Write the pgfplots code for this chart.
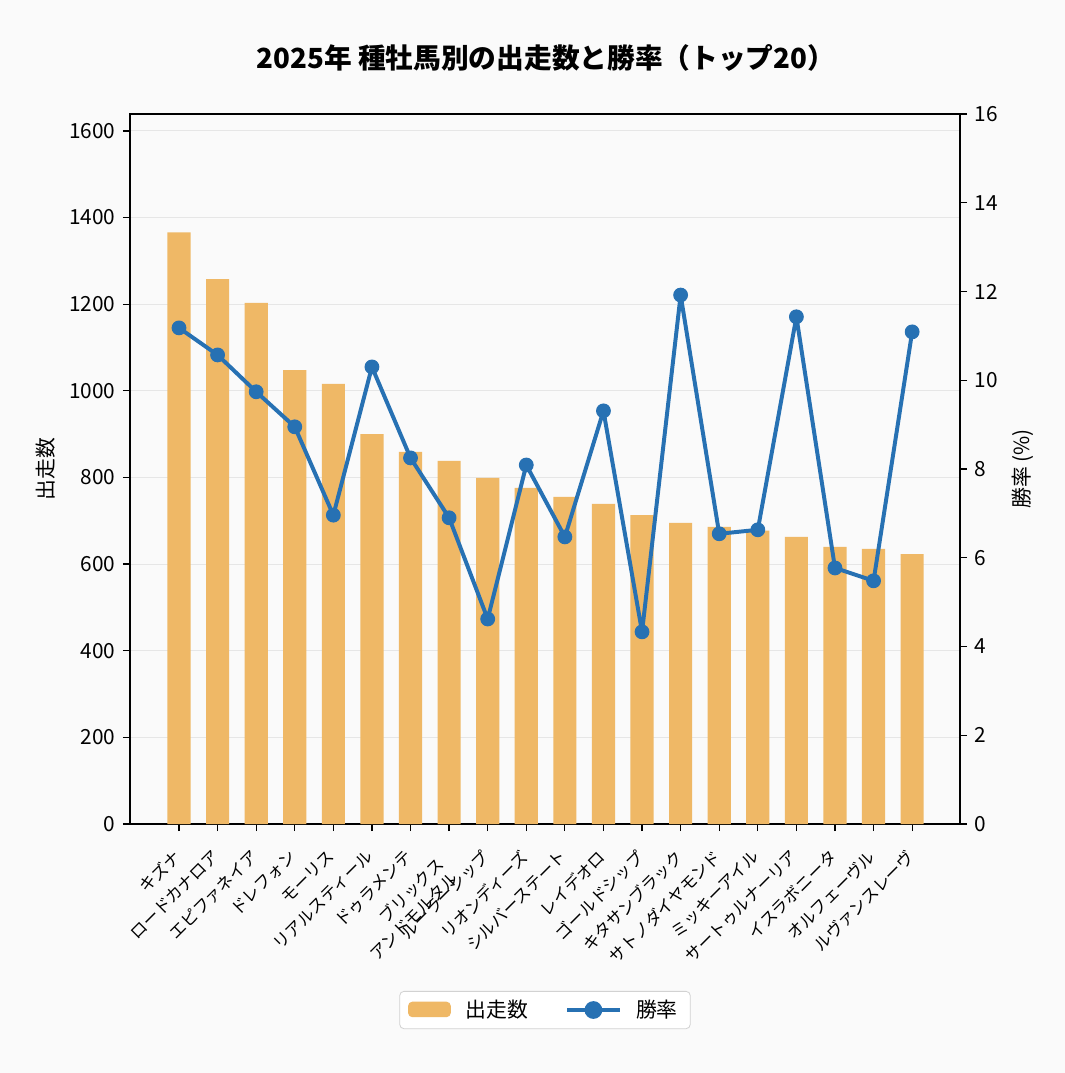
\documentclass[border=0pt]{standalone}
\usepackage{pgfplots}
\pgfplotsset{compat=1.18}
\usepackage{fontspec}
\setmainfont{Noto Sans CJK JP}
\definecolor{barc}{HTML}{EFB866}
\definecolor{linec}{HTML}{2771B3}
\definecolor{bg}{HTML}{FAFAFA}
\definecolor{gridc}{HTML}{E6E6E6}
\begin{document}
\begin{tikzpicture}
\fill[bg] (0,0) rectangle (511.2pt,515.04pt);
\useasboundingbox (0,0) rectangle (511.2pt,515.04pt);
\node[font=\bfseries\fontsize{13.3}{16}\selectfont] at (262pt,487.2pt) {2025年 種牡馬別の出走数と勝率（トップ20）};
\begin{axis}[
  at={(62.4pt,119.52pt)}, anchor=south west, scale only axis,
  width=398.4pt, height=340.8pt,
  xmin=-1.27, xmax=20.24, ymin=0, ymax=1639,
  ytick={0,200,...,1600}, ytick pos=left, xtick pos=bottom,
  tick align=outside, major tick length=3.4pt,
  axis line style={line width=0.7pt}, tick style={line width=0.6pt, black},
  ymajorgrids, grid style={gridc, line width=0.5pt},
  xtick={0,1,2,3,4,5,6,8,9,10,11,12,13,14,15,16,17,18,19},
  xticklabels={キズナ,ロードカナロア,エピファネイア,ドレフォン,モーリス,リアルスティール,ドゥラメンテ,ルーラーシップ,リオンディーズ,シルバーステート,レイデオロ,ゴールドシップ,キタサンブラック,サトノダイヤモンド,ミッキーアイル,サートゥルナーリア,イスラボニータ,オルフェーヴル,ルヴァンスレーヴ},
  xticklabel style={rotate=45, anchor=north east, align=right, font=\fontsize{8}{9.5}\selectfont, inner sep=1pt, xshift=-7pt, yshift=-2.4pt},
  extra x ticks={7},
  extra x tick labels={{ブリックス\\アンドモルタル}},
  extra x tick style={xticklabel style={xshift=-5pt}},
  yticklabel style={font=\fontsize{10}{12}\selectfont},
  /pgf/number format/assume math mode=true,
  /pgf/number format/1000 sep={},
  ylabel={出走数}, ylabel style={font=\fontsize{10}{12}\selectfont},
  axis background/.style={fill=bg},
  legend style={at={(0.5,-0.262)}, anchor=center, legend columns=2, draw=gray!35, rounded corners=2pt, fill=white, font=\fontsize{10}{12}\selectfont, inner xsep=4pt,
    /tikz/every odd column/.append style={column sep=5pt},
    /tikz/every even column/.append style={column sep=16pt}},
]
\addplot[ybar, bar width=0.6, fill=barc, draw=none, legend image code/.code={\fill[barc] (0cm,-0.12cm) rectangle (0.72cm,0.14cm);}] coordinates {
(0,1366) (1,1258) (2,1203) (3,1048) (4,1016) (5,900) (6,859) (7,838) (8,799) (9,776)
(10,755) (11,739) (12,713) (13,695) (14,686) (15,677) (16,663) (17,640) (18,635) (19,623)};
\addlegendentry{出走数}
\addlegendimage{linec, line width=1.9pt, mark=*, mark size=3.3pt, legend image code/.code={\draw[line width=1.9pt, linec] (0cm,0cm) -- (0.88cm,0cm); \fill[linec] (0.44cm,0cm) circle (3.3pt);}}
\addlegendentry{勝率}
\end{axis}
\begin{axis}[
  at={(62.4pt,119.52pt)}, anchor=south west, scale only axis,
  width=398.4pt, height=340.8pt,
  xmin=-1.27, xmax=20.24, ymin=0, ymax=16,
  axis x line=none, axis y line*=right,
  ytick={0,2,...,16},
  tick align=outside, major tick length=3.4pt,
  axis line style={line width=0.7pt}, tick style={line width=0.6pt, black},
  yticklabel style={font=\fontsize{10}{12}\selectfont},
  /pgf/number format/assume math mode=true,
  ylabel={勝率 (\%)}, ylabel style={font=\fontsize{10}{12}\selectfont},
]
\addplot[linec, line width=1.9pt, line join=round, mark=*, mark size=3.3pt, mark options={fill=linec, draw=linec, line width=0.5pt}] coordinates {
(0,11.18) (1,10.57) (2,9.74) (3,8.95) (4,6.96) (5,10.30) (6,8.25) (7,6.90) (8,4.62) (9,8.09)
(10,6.47) (11,9.31) (12,4.33) (13,11.92) (14,6.54) (15,6.63) (16,11.43) (17,5.77) (18,5.48) (19,11.09)};
\end{axis}
\end{tikzpicture}
\end{document}
